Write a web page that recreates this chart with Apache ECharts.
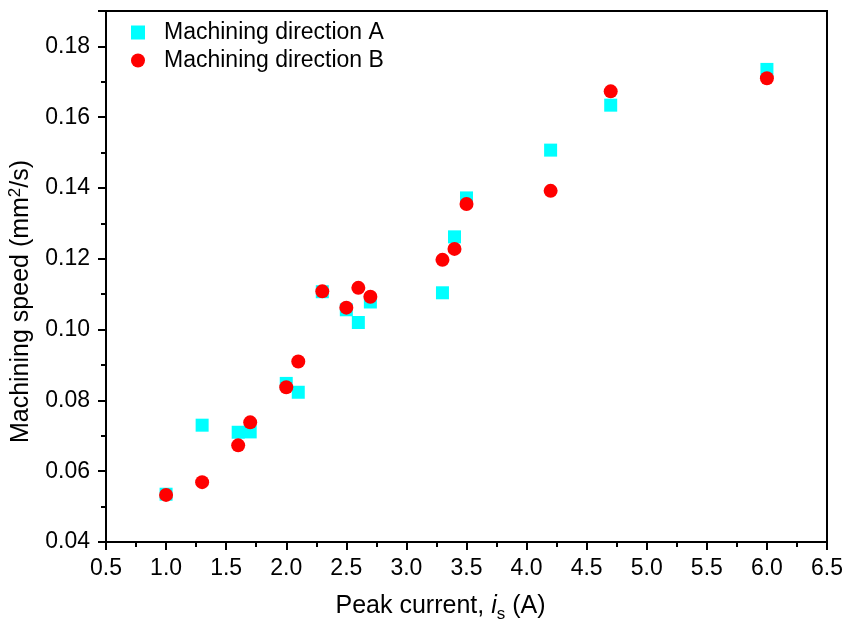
<!DOCTYPE html>
<html>
<head>
<meta charset="utf-8">
<script src="https://cdn.jsdelivr.net/npm/echarts@6/dist/echarts.min.js"></script>
<style>
  html, body { margin: 0; padding: 0; background: #fff; }
  #chart { width: 844px; height: 619px; }
</style>
</head>
<body>
<div id="chart"></div>
<script>
// Peak current (A) for each measurement
const peakCurrent = [1.0, 1.3, 1.6, 1.7, 2.0, 2.1, 2.3, 2.5, 2.6, 2.7, 3.3, 3.4, 3.5, 4.2, 4.7, 6.0];
// Machining speed (mm^2/s), direction A
const speedA = [0.0535, 0.0730, 0.0710, 0.0711, 0.0848, 0.0823, 0.1107, 0.1056, 0.1020, 0.1078, 0.1104, 0.1262, 0.1372, 0.1507, 0.1634, 0.1735];
// Machining speed (mm^2/s), direction B
const speedB = [0.0533, 0.0569, 0.0673, 0.0738, 0.0837, 0.0910, 0.1108, 0.1062, 0.1118, 0.1093, 0.1197, 0.1228, 0.1355, 0.1392, 0.1673, 0.1710];

const seriesNames = ['Machining direction A', 'Machining direction B'];

const font = 'Arial, "Liberation Sans", sans-serif';
const pairs = ys => peakCurrent.map((x, i) => [x, ys[i]]);

const chart = echarts.init(document.getElementById('chart'));
chart.setOption({
  animation: false,
  backgroundColor: '#fff',
  grid: { left: 106, right: 17, top: 11, bottom: 77, containLabel: false, outerBoundsMode: 'none' },
  legend: {
    orient: 'vertical',
    left: 126,
    top: 16,
    itemGap: 5,
    itemWidth: 14,
    itemHeight: 14,
    textStyle: { fontFamily: font, fontSize: 23, color: '#000', padding: [0, 0, 0, 14] },
    data: [
      { name: seriesNames[0], icon: 'rect' },
      { name: seriesNames[1], icon: 'circle' }
    ]
  },
  xAxis: {
    type: 'value',
    min: 0.5,
    max: 6.5,
    interval: 0.5,
    name: 'Peak current, {it|i}{sub|s} (A)',
    nameLocation: 'middle',
    nameGap: 48,
    nameTextStyle: {
      fontFamily: font, fontSize: 25, color: '#000',
      padding: [0, 52, 0, 0],
      rich: {
        it: { fontFamily: font, fontSize: 25, fontStyle: 'italic', color: '#000' },
        sub: { fontFamily: font, fontSize: 17, color: '#000', verticalAlign: 'bottom', padding: [16, 0, 0, 0] }
      }
    },
    axisLine: { show: true, onZero: false, lineStyle: { color: '#000', width: 2 } },
    axisTick: { show: true, inside: false, length: 8, lineStyle: { color: '#000', width: 2 } },
    minorTick: { show: true, splitNumber: 2, length: 5, lineStyle: { color: '#000', width: 2 } },
    axisLabel: {
      fontFamily: font, fontSize: 23, color: '#000', margin: 15,
      formatter: v => v.toFixed(1)
    },
    splitLine: { show: false }
  },
  yAxis: {
    type: 'value',
    min: 0.04,
    max: 0.19,
    interval: 0.02,
    name: 'Machining speed (mm{sup|2}/s)',
    nameLocation: 'middle',
    nameGap: 70,
    nameRotate: 90,
    nameTextStyle: {
      fontFamily: font, fontSize: 25, color: '#000',
      padding: [0, 50, 0, 0],
      rich: {
        sup: { fontFamily: font, fontSize: 17, color: '#000', verticalAlign: 'top', padding: [0, 0, 12, 0] }
      }
    },
    axisLine: { show: true, onZero: false, lineStyle: { color: '#000', width: 2 } },
    axisTick: { show: true, inside: false, length: 8, lineStyle: { color: '#000', width: 2 } },
    minorTick: { show: true, splitNumber: 2, length: 5, lineStyle: { color: '#000', width: 2 } },
    axisLabel: {
      fontFamily: font, fontSize: 23, color: '#000', margin: 16,
      formatter: v => (v > 0.185 ? '' : v.toFixed(2))
    },
    splitLine: { show: false }
  },
  graphic: [{
    // closing frame on the top and right
    type: 'polyline',
    silent: true,
    z: 100,
    shape: { points: [[106, 542], [106, 11], [827, 11], [827, 542]] },
    style: { stroke: '#000', lineWidth: 2, fill: null }
  }],
  series: [
    {
      name: seriesNames[0],
      type: 'scatter',
      symbol: 'rect',
      symbolSize: 13,
      itemStyle: { color: '#00FFFF', opacity: 1 },
      data: pairs(speedA),
      z: 2
    },
    {
      name: seriesNames[1],
      type: 'scatter',
      symbol: 'circle',
      symbolSize: 14,
      itemStyle: { color: '#FF0000', opacity: 1 },
      data: pairs(speedB),
      z: 3
    }
  ]
});
</script>
</body>
</html>
